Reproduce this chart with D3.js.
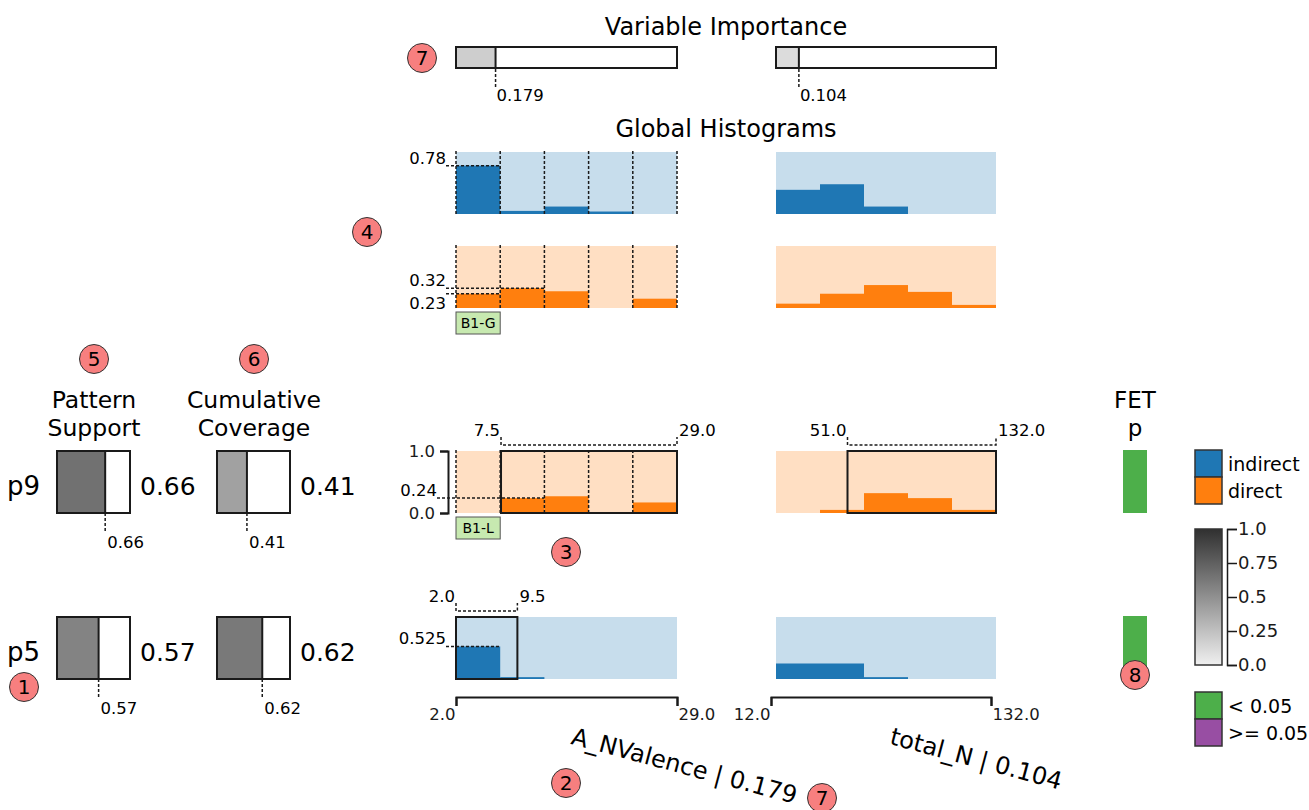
<!DOCTYPE html>
<html lang="en">
<head>
<meta charset="utf-8">
<title>Pattern overview</title>
<script src="https://cdnjs.cloudflare.com/ajax/libs/d3/7.8.5/d3.min.js"></script>
<style>
    body { margin: 0; background: #fff; }
    svg { display: block; font-family: "DejaVu Sans", sans-serif; }
</style>
</head>
<body>
<div id="chart"></div>
<script>

    // ---- data ----
    const features = ["A_NValence", "total_N"];
    const importance = [0.179, 0.104];
    const featureDomains = [[2.0, 29.0], [12.0, 132.0]];

    const classes = ["indirect", "direct"];
    const classColors = ["#1f77b4", "#ff7f0e"];

    // global histograms, 5 bins per feature (fraction of class)
    const globalIndirectA = [0.78, 0.05, 0.12, 0.04, 0.0];
    const globalIndirectB = [0.39, 0.48, 0.12, 0.0, 0.0];
    const globalDirectA = [0.23, 0.32, 0.27, 0.0, 0.15];
    const globalDirectB = [0.07, 0.23, 0.37, 0.26, 0.05];

    // patterns
    const patterns = ["p9", "p5"];
    const patternSupport = [0.66, 0.57];
    const cumulativeCoverage = [0.41, 0.62];
    const patternClass = [1, 0];
    const fetP = [0.01, 0.01];
    const p9RangeA = [7.5, 29.0];
    const p9RangeB = [51.0, 132.0];
    const p5RangeA = [2.0, 9.5];
    const p9HistA = [0.0, 0.24, 0.27, 0.0, 0.17];
    const p9HistB = [0.0, 0.05, 0.32, 0.24, 0.05];
    const p5HistA = [0.525, 0.03, 0.0, 0.0, 0.0];
    const p5HistB = [0.25, 0.25, 0.03, 0.0, 0.0];

    const colorbarTicks = [0, 0.25, 0.5, 0.75, 1.0];
    const pLegend = ["< 0.05", ">= 0.05"];
    const pColors = ["#4daf4a", "#984ea3"];

    // ---- layout ----
    const width = 1309;
    const height = 810;
    const colX = [456, 776];
    const colW = [221, 220];
    const histH = 62;
    const globalTop = [152, 246];
    const rowTop = [451, 617];
    const axisShift = [0, -5];
    const boxW = 73;
    const supportX = 57;
    const coverageX = 217;
    const ink = "#1a1a1a";

    const grayScale = d3.scaleLinear().domain([0, 1]).range(["#f0f0f0", "#303030"]);
    const xScales = featureDomains.map((d, i) =>
        d3.scaleLinear().domain(d).range([colX[i], colX[i] + colW[i]]));
    const fmt1 = d3.format(".1f");

    const svg = d3.select("#chart")
        .append("svg")
        .attr("width", width)
        .attr("height", height);

    // ---- titles ----
    svg.append("text").attr("x", 726).attr("y", 35).attr("text-anchor", "middle")
        .attr("font-size", 24).text("Variable Importance");
    svg.append("text").attr("x", 726).attr("y", 137).attr("text-anchor", "middle")
        .attr("font-size", 24).text("Global Histograms");

    // ---- variable importance ----
    features.forEach((f, i) => {
        const s = d3.scaleLinear().domain([0, 1]).range([colX[i], colX[i] + colW[i]]);
        const g = svg.append("g");
        g.append("rect").attr("x", s(0)).attr("y", 47).attr("width", s(importance[i]) - s(0))
            .attr("height", 21).attr("fill", grayScale(importance[i]));
        g.append("rect").attr("x", s(0)).attr("y", 47).attr("width", s(1) - s(0))
            .attr("height", 21).attr("fill", "none").attr("stroke", ink).attr("stroke-width", 2);
        g.append("line").attr("x1", s(importance[i])).attr("x2", s(importance[i]))
            .attr("y1", 47).attr("y2", 68).attr("stroke", ink).attr("stroke-width", 2);
        g.append("line").attr("x1", s(importance[i])).attr("x2", s(importance[i]))
            .attr("y1", 69).attr("y2", 89).attr("stroke", ink).attr("stroke-width", 1.5)
            .attr("stroke-dasharray", "3,2");
        g.append("text").attr("x", s(importance[i]) + 1).attr("y", 101)
            .attr("font-size", 16.5).text(importance[i].toFixed(3));
    });

    // ---- histogram panel ----
    function histogram(fi, top, values, cls, opts) {
        const x = xScales[fi];
        const [d0, d1] = featureDomains[fi];
        const n = values.length;
        const edges = d3.range(n + 1).map(k => d0 + k * (d1 - d0) / n);
        const y = d3.scaleLinear().domain([0, 1]).range([top + histH, top]);
        const g = svg.append("g");

        g.append("rect").attr("x", x(d0)).attr("y", y(1))
            .attr("width", x(d1) - x(d0)).attr("height", y(0) - y(1))
            .attr("fill", classColors[cls]).attr("fill-opacity", 0.25);

        g.selectAll("rect.bar")
            .data(values.map((v, k) => ({ v, k })).filter(d => d.v > 0))
            .enter()
            .append("rect")
            .attr("class", "bar")
            .attr("x", d => x(edges[d.k]))
            .attr("y", d => y(d.v))
            .attr("width", d => x(edges[d.k + 1]) - x(edges[d.k]))
            .attr("height", d => y(0) - y(d.v))
            .attr("fill", classColors[cls]);

        if (opts.dashedEdges) {
            g.selectAll("line.edge").data(edges).enter().append("line")
                .attr("x1", d => x(d)).attr("x2", d => x(d))
                .attr("y1", y(1) - 1).attr("y2", y(0))
                .attr("stroke", ink).attr("stroke-width", 1.5).attr("stroke-dasharray", "3,2");
        }

        if (opts.range) {
            const [r0, r1] = opts.range;
            g.append("rect").attr("x", x(r0)).attr("y", y(1))
                .attr("width", x(r1) - x(r0)).attr("height", y(0) - y(1))
                .attr("fill", "none").attr("stroke", ink).attr("stroke-width", 2);
            g.append("path")
                .attr("d", `M${x(r0)},${top - 14}V${top - 6}H${x(r1)}V${top - 14}`)
                .attr("fill", "none").attr("stroke", ink).attr("stroke-width", 1.5)
                .attr("stroke-dasharray", "3,2");
            g.append("text").attr("x", x(r0) - 1).attr("y", top - 15)
                .attr("text-anchor", "end").attr("font-size", 16.5).text(fmt1(r0));
            g.append("text").attr("x", x(r1) + 2).attr("y", top - 15)
                .attr("font-size", 16.5).text(fmt1(r1));
        }

        (opts.labels || []).forEach(lb => {
            const v = values[lb.bin];
            const lx = opts.axis ? x(d0) - 19 : x(d0) - 10;
            g.append("line").attr("x1", lx).attr("x2", x(edges[lb.bin + 1]))
                .attr("y1", y(v)).attr("y2", y(v))
                .attr("stroke", ink).attr("stroke-width", 1.5).attr("stroke-dasharray", "3,2");
            g.append("text").attr("x", lx).attr("y", lb.below ? y(v) + 15 : y(v) - 2)
                .attr("text-anchor", "end").attr("font-size", 16.5).text(lb.text || String(v));
        });

        if (opts.axis) {
            const ax = g.append("g")
                .attr("transform", `translate(${x(d0) - 8},0)`)
                .call(d3.axisLeft(y).tickValues([0, 1]).tickFormat(fmt1).tickSize(8).tickPadding(5));
            ax.selectAll("path, line").attr("stroke", ink).attr("stroke-width", 2);
            ax.selectAll("text").attr("font-size", 16.5).attr("fill", ink)
                .attr("font-family", "DejaVu Sans, sans-serif");
        }

        if (opts.rule) {
            g.append("rect").attr("x", x(d0)).attr("y", top + histH + 4)
                .attr("width", x(edges[1]) - x(d0)).attr("height", 22)
                .attr("fill", "#c7e9b0").attr("stroke", "#555").attr("stroke-width", 1);
            g.append("text").attr("x", (x(d0) + x(edges[1])) / 2).attr("y", top + histH + 20)
                .attr("text-anchor", "middle").attr("font-size", 14).text(opts.rule);
        }
    }

    // global histograms
    histogram(0, globalTop[0], globalIndirectA, 0, {
        dashedEdges: true, labels: [{ bin: 0 }]
    });
    histogram(1, globalTop[0], globalIndirectB, 0, {});
    histogram(0, globalTop[1], globalDirectA, 1, {
        dashedEdges: true, labels: [{ bin: 1 }, { bin: 0, below: true }], rule: "B1-G"
    });
    histogram(1, globalTop[1], globalDirectB, 1, {});

    // pattern rows
    histogram(0, rowTop[0], p9HistA, patternClass[0], {
        dashedEdges: true, range: p9RangeA, axis: true, labels: [{ bin: 1 }], rule: "B1-L"
    });
    histogram(1, rowTop[0], p9HistB, patternClass[0], { range: p9RangeB });
    histogram(0, rowTop[1], p5HistA, patternClass[1], {
        range: p5RangeA, labels: [{ bin: 0 }]
    });
    histogram(1, rowTop[1], p5HistB, patternClass[1], {});

    // bottom feature axes
    features.forEach((f, i) => {
        const s = xScales[i].copy().range(xScales[i].range().map(r => r + axisShift[i]));
        const ax = svg.append("g").attr("transform", "translate(0,697)")
            .call(d3.axisBottom(s).tickValues(featureDomains[i]).tickFormat(fmt1)
                .tickSize(9).tickPadding(2));
        ax.selectAll("path, line").attr("stroke", ink).attr("stroke-width", 2);
        ax.selectAll("text").attr("font-size", 16.5).attr("fill", ink)
            .attr("font-family", "DejaVu Sans, sans-serif")
            .attr("text-anchor", (d, k) => k === 0 ? "end" : "start")
            .attr("dx", (d, k) => k === 0 ? "-1" : "1");
    });

    // rotated feature titles
    const titleCenters = [[684, 767], [976, 760]];
    features.forEach((f, i) => {
        svg.append("text")
            .attr("transform", `translate(${titleCenters[i][0]},${titleCenters[i][1]}) rotate(15)`)
            .attr("text-anchor", "middle").attr("dominant-baseline", "middle")
            .attr("font-size", 24).text(`${f} | ${importance[i]}`);
    });

    // ---- support / coverage ----
    [["Pattern", "Support", 94], ["Cumulative", "Coverage", 254]].forEach(h => {
        svg.append("text").attr("x", h[2]).attr("y", 408).attr("text-anchor", "middle")
            .attr("font-size", 23.5).text(h[0]);
        svg.append("text").attr("x", h[2]).attr("y", 436).attr("text-anchor", "middle")
            .attr("font-size", 23.5).text(h[1]);
    });

    function metricBox(x0, top, value) {
        const s = d3.scaleLinear().domain([0, 1]).range([x0, x0 + boxW]);
        const g = svg.append("g");
        g.append("rect").attr("x", s(0)).attr("y", top).attr("width", s(value) - s(0))
            .attr("height", histH).attr("fill", grayScale(value));
        g.append("rect").attr("x", s(0)).attr("y", top).attr("width", s(1) - s(0))
            .attr("height", histH).attr("fill", "none").attr("stroke", ink).attr("stroke-width", 2);
        g.append("line").attr("x1", s(value)).attr("x2", s(value)).attr("y1", top)
            .attr("y2", top + histH).attr("stroke", ink).attr("stroke-width", 2);
        g.append("line").attr("x1", s(value)).attr("x2", s(value)).attr("y1", top + histH)
            .attr("y2", top + histH + 20).attr("stroke", ink).attr("stroke-width", 1.5)
            .attr("stroke-dasharray", "3,2");
        g.append("text").attr("x", s(value) + 2).attr("y", top + histH + 35)
            .attr("font-size", 16.5).text(value.toFixed(2));
        g.append("text").attr("x", s(1) + 10).attr("y", top + histH / 2 + 13)
            .attr("font-size", 25).text(value.toFixed(2));
    }

    patterns.forEach((p, i) => {
        svg.append("text").attr("x", 7).attr("y", rowTop[i] + histH / 2 + 13)
            .attr("font-size", 26).text(p);
        metricBox(supportX, rowTop[i], patternSupport[i]);
        metricBox(coverageX, rowTop[i], cumulativeCoverage[i]);
    });

    // ---- FET p ----
    svg.append("text").attr("x", 1135).attr("y", 408).attr("text-anchor", "middle")
        .attr("font-size", 23).text("FET");
    svg.append("text").attr("x", 1135).attr("y", 436).attr("text-anchor", "middle")
        .attr("font-size", 23).text("p");
    patterns.forEach((p, i) => {
        svg.append("rect").attr("x", 1123).attr("y", rowTop[i] - 1).attr("width", 24)
            .attr("height", histH + 1).attr("fill", fetP[i] < 0.05 ? pColors[0] : pColors[1]);
    });

    // ---- legends ----
    const legend = svg.append("g");
    classes.forEach((c, i) => {
        legend.append("rect").attr("x", 1195).attr("y", 450 + i * 27).attr("width", 27)
            .attr("height", 27).attr("fill", classColors[i]).attr("stroke", "#333").attr("stroke-width", 1.5);
        legend.append("text").attr("x", 1228).attr("y", 471 + i * 27).attr("font-size", 19).text(c);
    });

    const grad = svg.append("defs").append("linearGradient").attr("id", "grayGrad")
        .attr("x1", 0).attr("x2", 0).attr("y1", 0).attr("y2", 1);
    grad.append("stop").attr("offset", "0%").attr("stop-color", grayScale(1));
    grad.append("stop").attr("offset", "100%").attr("stop-color", grayScale(0));
    const cbY = d3.scaleLinear().domain([0, 1]).range([665, 529]);
    legend.append("rect").attr("x", 1195).attr("y", cbY(1)).attr("width", 27)
        .attr("height", cbY(0) - cbY(1)).attr("fill", "url(#grayGrad)")
        .attr("stroke", "#333").attr("stroke-width", 1.5);
    const cbAxis = legend.append("g").attr("transform", "translate(1227,0)")
        .call(d3.axisRight(cbY).tickValues(colorbarTicks)
            .tickFormat(d => d === 0 ? "0.0" : d === 1 ? "1.0" : String(d))
            .tickSize(10).tickSizeOuter(10).tickPadding(1));
    cbAxis.selectAll("path, line").attr("stroke", ink).attr("stroke-width", 1.5);
    cbAxis.selectAll("text").attr("font-size", 18).attr("fill", ink)
        .attr("font-family", "DejaVu Sans, sans-serif");

    pLegend.forEach((t, i) => {
        legend.append("rect").attr("x", 1195).attr("y", 692 + i * 27).attr("width", 27)
            .attr("height", 27).attr("fill", pColors[i]).attr("stroke", "#333").attr("stroke-width", 1.5);
        legend.append("text").attr("x", 1228).attr("y", 713 + i * 27).attr("font-size", 19).text(t);
    });

    // ---- numbered badges ----
    const badges = [[7, 422, 58], [4, 367, 232], [5, 94, 359], [6, 254, 359], [3, 566, 552],
                    [1, 24, 687], [2, 566, 783], [7, 822, 798], [8, 1135, 675]];
    const bg = svg.append("g");
    badges.forEach(b => {
        bg.append("circle").attr("cx", b[1]).attr("cy", b[2]).attr("r", 14.5)
            .attr("fill", "#f77f7f").attr("stroke", "#333").attr("stroke-width", 1);
        bg.append("text").attr("x", b[1]).attr("y", b[2] + 7).attr("text-anchor", "middle")
            .attr("font-size", 20).text(b[0]);
    });

</script>
</body>
</html>
